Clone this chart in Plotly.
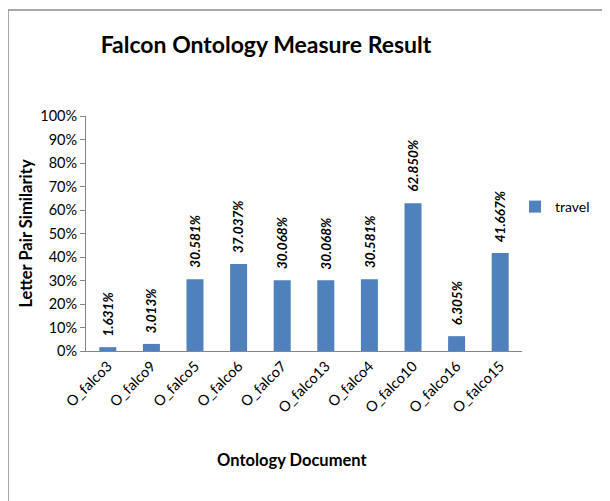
import plotly.graph_objects as go

categories = ["O_falco3", "O_falco9", "O_falco5", "O_falco6", "O_falco7",
              "O_falco13", "O_falco4", "O_falco10", "O_falco16", "O_falco15"]
travel = [0.01631, 0.03013, 0.30581, 0.37037, 0.30068,
          0.30068, 0.30581, 0.62850, 0.06305, 0.41667]
y_ticks = [0, 0.1, 0.2, 0.3, 0.4, 0.5, 0.6, 0.7, 0.8, 0.9, 1.0]

FONT = "Lato"
OFF = 8  # default body margin of the page
fig = go.Figure()
fig.add_trace(go.Bar(
    x=categories, y=travel, name="travel",
    marker=dict(color="#4F81BD", line=dict(width=0)),
))

W, H = 610, 501
# plot area in page pixels
PL, PR, PT, PB = 86, 522, 116, 351
L, T = PL - OFF, PT - OFF
R = W - PR + OFF
B = H - PB + OFF
pw, ph = PR - PL, PB - PT

def px_x(x):
    return (x - PL) / pw

def px_y(y):
    return (PB - y) / ph

annotations = [
    dict(x=c, y=v, xref="x", yref="y", text=f"<b><i>{v:.3%}</i></b>",
         showarrow=False, textangle=-90, yanchor="bottom", xanchor="center",
         yshift=9, font=dict(family=FONT, size=13.5, color="black"))
    for c, v in zip(categories, travel)
]
annotations.append(dict(
    x=px_x(292), y=px_y(460), xref="paper", yref="paper",
    text="<b>Ontology Document</b>", showarrow=False,
    xanchor="center", yanchor="middle", font=dict(family=FONT, size=16.5)))

fig.update_layout(
    width=W, height=H,
    margin=dict(l=L, r=R, t=T, b=B, autoexpand=False),
    paper_bgcolor="white", plot_bgcolor="white",
    font=dict(family=FONT, size=14, color="black"),
    title=dict(text="<b>Falcon Ontology Measure Result</b>",
               x=(266 - OFF) / W, xanchor="center", y=1 - (45 - OFF) / H, yanchor="middle",
               font=dict(family=FONT, size=23, color="black")),
    bargap=0.61,
    showlegend=True,
    legend=dict(x=px_x(515), y=px_y(207), xanchor="left", yanchor="middle",
                font=dict(family=FONT, size=14), bgcolor="rgba(0,0,0,0)",
                itemwidth=30),
    xaxis=dict(
        tickangle=-45, showline=True, linecolor="#868686", linewidth=1,
        ticks="", tickfont=dict(family=FONT, size=14.5),
    ),
    yaxis=dict(
        range=[0, 1], tickvals=y_ticks, tickformat=".0%",
        showline=True, linecolor="#868686", linewidth=1,
        ticks="outside", ticklen=5, tickcolor="#868686",
        showgrid=False, zeroline=False,
        tickfont=dict(family=FONT, size=14.5),
        title=dict(text="<b>Letter Pair Similarity</b>", font=dict(family=FONT, size=16.5),
                   standoff=3),
    ),
    annotations=annotations,
    shapes=[dict(type="rect", xref="paper", yref="paper",
                 x0=px_x(8), x1=px_x(W + 20), y0=px_y(H + 20), y1=px_y(10),
                 line=dict(color="#8C8C8C", width=1.5), fillcolor="rgba(0,0,0,0)",
                 layer="below")],
)

fig.write_html("out.html")
